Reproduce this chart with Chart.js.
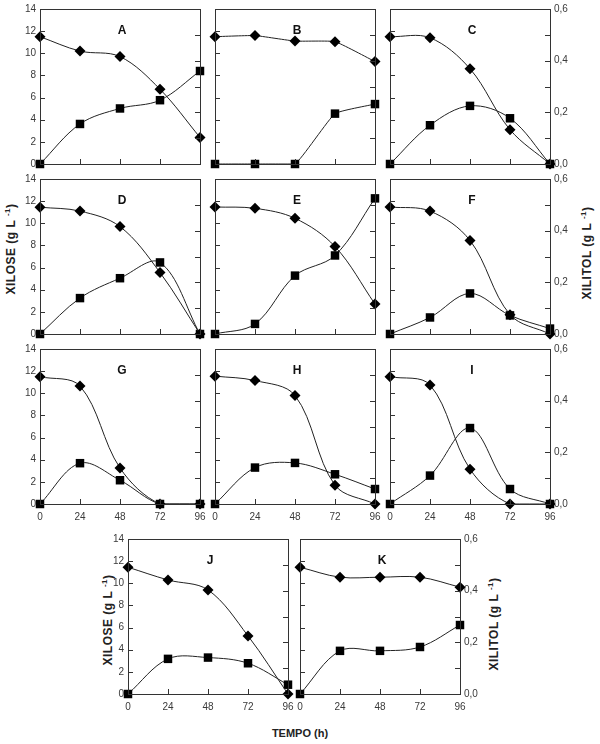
<!DOCTYPE html>
<html lang="pt">
<head>
  <meta charset="UTF-8">
  <title>Xilose e xilitol</title>
  <script src="https://cdn.jsdelivr.net/npm/chart.js"></script>
  <style>
    body {
      margin: 0;
      width: 600px;
      height: 744px;
      background: #ffffff;
      position: relative;
      overflow: hidden;
      font-family: "Liberation Sans", Arial, sans-serif;
      color: #222;
    }
    canvas {
      position: absolute;
    }
    .titulo {
      position: absolute;
      font-weight: bold;
      font-size: 12px;
      letter-spacing: 0.5px;
      white-space: nowrap;
      transform: translate(-50%, -50%) rotate(-90deg);
    }
    .titulo sup {
      font-size: 8px;
    }
    #tempo {
      position: absolute;
      left: 300px;
      top: 733px;
      transform: translate(-50%, -50%);
      font-weight: bold;
      font-size: 11px;
    }
  </style>
</head>
<body>
  <div class="titulo" style="left:10px; top:249px;">XILOSE (g L <sup>-1</sup>)</div>
  <div class="titulo" style="left:586px; top:253px;">XILITOL (g L <sup>-1</sup>)</div>
  <div class="titulo" style="left:107px; top:620px;">XILOSE (g L <sup>-1</sup>)</div>
  <div class="titulo" style="left:493px; top:624px;">XILITOL (g L <sup>-1</sup>)</div>
  <div id="tempo">TEMPO (h)</div>

  <script>
    // tempo (h)
    const tempo = [0, 24, 48, 72, 96];
    const letras = ['A', 'B', 'C', 'D', 'E', 'F', 'G', 'H', 'I', 'J', 'K'];

    // xilose (g/L) - eixo da esquerda, losangos
    const xiloseA = [11.5, 10.2, 9.7, 6.75, 2.4];
    const xiloseB = [11.5, 11.6, 11.1, 11.05, 9.25];
    const xiloseC = [11.5, 11.4, 8.6, 3.1, 0];
    const xiloseD = [11.45, 11.1, 9.7, 5.55, 0];
    const xiloseE = [11.47, 11.35, 10.45, 7.9, 2.7];
    const xiloseF = [11.47, 11.1, 8.45, 1.75, 0];
    const xiloseG = [11.5, 10.65, 3.25, 0, 0];
    const xiloseH = [11.55, 11.15, 9.8, 1.7, 0];
    const xiloseI = [11.5, 10.75, 3.15, 0, 0];
    const xiloseJ = [11.45, 10.3, 9.4, 5.25, 0];
    const xiloseK = [11.45, 10.55, 10.55, 10.55, 9.65];

    // xilitol (g/L) - eixo da direita, quadrados
    const xilitolA = [0, 0.155, 0.215, 0.247, 0.36];
    const xilitolB = [0, 0, 0, 0.195, 0.232];
    const xilitolC = [0, 0.150, 0.225, 0.177, 0];
    const xilitolD = [0, 0.139, 0.216, 0.277, 0];
    const xilitolE = [0, 0.039, 0.226, 0.304, 0.525];
    const xilitolF = [0, 0.064, 0.157, 0.072, 0.021];
    const xilitolG = [0, 0.158, 0.092, 0, 0];
    const xilitolH = [0, 0.141, 0.159, 0.115, 0.058];
    const xilitolI = [0, 0.110, 0.294, 0.058, 0];
    const xilitolJ = [0, 0.136, 0.141, 0.119, 0.036];
    const xilitolK = [0, 0.167, 0.167, 0.182, 0.267];

    const xiloses = [xiloseA, xiloseB, xiloseC, xiloseD, xiloseE, xiloseF, xiloseG, xiloseH, xiloseI, xiloseJ, xiloseK];
    const xilitois = [xilitolA, xilitolB, xilitolC, xilitolD, xilitolE, xilitolF, xilitolG, xilitolH, xilitolI, xilitolJ, xilitolK];

    // posicao da area do grafico (canto superior esquerdo) de cada painel
    const posicoes = [
      [40, 9], [215, 9], [390, 9],
      [40, 179], [215, 179], [390, 179],
      [40, 349], [215, 349], [390, 349],
      [128, 539], [300, 539]
    ];
    const esquerda = ['A', 'D', 'G', 'J'];
    const direita = ['C', 'F', 'I', 'K'];
    const embaixo = ['G', 'H', 'I', 'J', 'K'];

    const LARG = 160, ALT = 155, MARG = 40, TOPO = 10, BASE = 25;
    const corTexto = '#3a3a3a';
    const fonte = { family: '"Liberation Sans", Arial, sans-serif', size: 10 };

    // moldura, tracos para dentro e letra do painel
    const moldura = {
      id: 'moldura',
      afterDraw(chart, args, opts) {
        const { ctx, chartArea: a, scales } = chart;
        ctx.save();
        ctx.strokeStyle = '#333';
        ctx.lineWidth = 1;
        ctx.strokeRect(Math.round(a.left) + 0.5, Math.round(a.top) + 0.5, Math.round(a.width), Math.round(a.height));
        ctx.beginPath();
        scales.x.ticks.forEach(t => {
          const px = Math.round(scales.x.getPixelForValue(t.value)) + 0.5;
          ctx.moveTo(px, a.bottom);
          ctx.lineTo(px, a.bottom - 5);
        });
        scales.y.ticks.forEach(t => {
          const py = Math.round(scales.y.getPixelForValue(t.value)) + 0.5;
          ctx.moveTo(a.left, py);
          ctx.lineTo(a.left + 5, py);
        });
        scales.y2.ticks.forEach(t => {
          const py = Math.round(scales.y2.getPixelForValue(t.value)) + 0.5;
          ctx.moveTo(a.right, py);
          ctx.lineTo(a.right - 5, py);
        });
        ctx.stroke();
        ctx.fillStyle = '#111';
        ctx.font = 'bold 12px "Liberation Sans", Arial, sans-serif';
        ctx.textAlign = 'center';
        ctx.textBaseline = 'middle';
        ctx.fillText(opts.letra, a.left + 82, a.top + 22);
        ctx.restore();
      }
    };

    letras.forEach((letra, i) => {
      const [x0, y0] = posicoes[i];
      const cv = document.createElement('canvas');
      cv.width = LARG + 2 * MARG;
      cv.height = ALT + TOPO + BASE;
      cv.style.left = (x0 - MARG) + 'px';
      cv.style.top = (y0 - TOPO) + 'px';
      document.body.appendChild(cv);

      const tensao = letra === 'B' ? 0.12 : 0.35;

      new Chart(cv, {
        type: 'line',
        data: {
          datasets: [
            {
              label: 'Xilose',
              data: tempo.map((t, k) => ({ x: t, y: xiloses[i][k] })),
              yAxisID: 'y',
              borderColor: '#222',
              borderWidth: 1,
              backgroundColor: '#000',
              pointStyle: 'rectRot',
              pointRadius: 5.5,
              pointBorderWidth: 0,
              tension: tensao,
              clip: false
            },
            {
              label: 'Xilitol',
              data: tempo.map((t, k) => ({ x: t, y: xilitois[i][k] })),
              yAxisID: 'y2',
              borderColor: '#222',
              borderWidth: 1,
              backgroundColor: '#000',
              pointStyle: 'rect',
              pointRadius: 6,
              pointBorderWidth: 0,
              tension: tensao,
              clip: false
            }
          ]
        },
        options: {
          responsive: false,
          animation: false,
          events: [],
          layout: { padding: { top: TOPO, left: 0, right: 0, bottom: 0 } },
          plugins: {
            legend: { display: false },
            tooltip: { enabled: false },
            moldura: { letra: letra }
          },
          scales: {
            x: {
              type: 'linear',
              min: 0, max: 96,
              ticks: { stepSize: 24, display: embaixo.includes(letra), color: corTexto, font: fonte, padding: 7, maxRotation: 0 },
              grid: { display: false, drawTicks: false },
              border: { display: false },
              afterFit(s) { s.height = BASE; }
            },
            y: {
              position: 'left',
              min: 0, max: 14,
              ticks: { stepSize: 2, display: esquerda.includes(letra), color: corTexto, font: fonte, padding: 4 },
              grid: { display: false, drawTicks: false },
              border: { display: false },
              afterFit(s) { s.width = MARG; }
            },
            y2: {
              position: 'right',
              min: 0, max: 0.6,
              ticks: {
                stepSize: 0.1, display: direita.includes(letra), color: corTexto, font: fonte, padding: 4,
                callback: v => Math.round(v * 10) % 2 === 0 ? v.toFixed(1).replace('.', ',') : ''
              },
              grid: { display: false, drawTicks: false },
              border: { display: false },
              afterFit(s) { s.width = MARG; }
            }
          }
        },
        plugins: [moldura]
      });
    });
  </script>
</body>
</html>
